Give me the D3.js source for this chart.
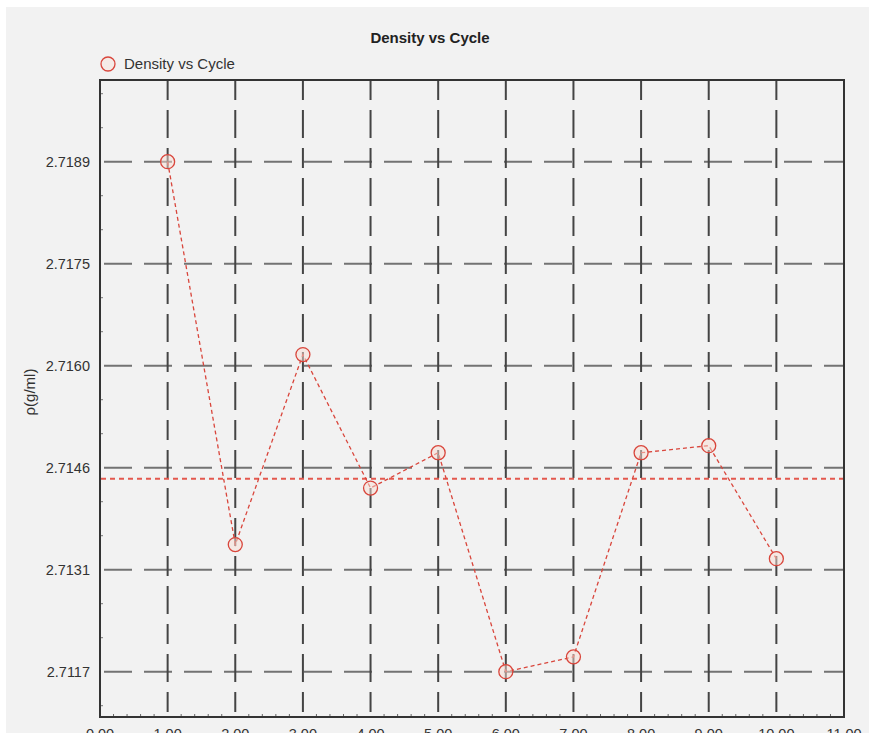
<!DOCTYPE html>
<html>
<head>
<meta charset="utf-8">
<script src="https://cdn.jsdelivr.net/npm/d3@7"></script>
<style>
html,body{margin:0;padding:0;background:#fff;}
svg{display:block;}
text{font-family:"Liberation Sans",Arial,Helvetica,sans-serif;}
</style>
</head>
<body>
<script>
const cycles = [1,2,3,4,5,6,7,8,9,10];
const density = [2.71892,2.71350,2.71619,2.71430,2.71480,2.71170,2.71191,2.71480,2.71490,2.71330];
const xTicks = [0,1,2,3,4,5,6,7,8,9,10,11];
const yTickLabels = ["2.7189","2.7175","2.7160","2.7146","2.7131","2.7117"];
const title = "Density vs Cycle";
const seriesName = "Density vs Cycle";
const yLabel = "ρ(g/ml)";

(function(){
const W = 869, H = 733;
const svg = d3.select("body").append("svg").attr("width", W).attr("height", H);
svg.append("rect").attr("x",6).attr("y",7).attr("width",W-6).attr("height",H-7).attr("fill","#f2f2f2");

const pL = 100, pR = 844, pT = 80, pB = 717;
const x = d3.scaleLinear().domain([0,11]).range([pL,pR]);
const yMax = d3.max(density), yMin = d3.min(density);
const pxPerUnit = (671.7-161.7)/(yMax-yMin);
const y = d3.scaleLinear()
  .domain([yMin - (pB-671.7)/pxPerUnit, yMax + (161.7-pT)/pxPerUnit])
  .range([pB, pT]);
const yTickVals = d3.range(6).map(i => yMax - i*(yMax-yMin)/5);

// grid
const g = svg.append("g");
g.selectAll(".hg").data(yTickVals).join("line")
  .attr("x1",pL).attr("x2",pR).attr("y1",d=>y(d)).attr("y2",d=>y(d))
  .attr("stroke","#737373").attr("stroke-width",2).attr("stroke-dasharray","28,12").attr("stroke-dashoffset",-4);
g.selectAll(".vg").data(xTicks.slice(1,-1)).join("line")
  .attr("x1",d=>x(d)).attr("x2",d=>x(d)).attr("y1",pT).attr("y2",pB)
  .attr("stroke","#444").attr("stroke-width",2).attr("stroke-dasharray","20,10,28,10");

// minor ticks
const minorX = d3.range(0,11.01,0.2).filter(v=>Math.abs(v-Math.round(v))>1e-6);
g.selectAll(".mx").data(minorX).join("line")
  .attr("x1",d=>x(d)).attr("x2",d=>x(d)).attr("y1",pB).attr("y2",pB-3)
  .attr("stroke","#666").attr("stroke-width",1);
const step = (yMax-yMin)/5;
const minorY = [];
for (let i=-1;i<6;i++){ for(let k=1;k<3;k++){ const v = yMax - i*step - k*step/3; if(v>y.domain()[0] && v<y.domain()[1]) minorY.push(v);} }
g.selectAll(".my").data(minorY).join("line")
  .attr("x1",pL).attr("x2",pL+3).attr("y1",d=>y(d)).attr("y2",d=>y(d))
  .attr("stroke","#777").attr("stroke-width",1);

// frame
svg.append("rect").attr("x",pL).attr("y",pT).attr("width",pR-pL).attr("height",pB-pT)
  .attr("fill","none").attr("stroke","#333").attr("stroke-width",2);

// y tick labels
svg.selectAll(".yl").data(yTickVals).join("text")
  .attr("x",90).attr("y",d=>y(d)+5).attr("text-anchor","end")
  .attr("font-size",14.5).attr("fill","#333").text((d,i)=>yTickLabels[i]);

// x tick labels
svg.selectAll(".xl").data(xTicks).join("text")
  .attr("x",d=>x(d)).attr("y",739).attr("text-anchor","middle")
  .attr("font-size",14.5).attr("fill","#333").text(d=>d.toFixed(2));

// y label
svg.append("text").attr("transform","translate(35,392) rotate(-90)")
  .attr("text-anchor","middle").attr("font-size",15).attr("fill","#333").text(yLabel);

// title
svg.append("text").attr("x",430).attr("y",43).attr("text-anchor","middle")
  .attr("font-size",15).attr("font-weight","bold").attr("fill","#222").text(title);

// legend
svg.append("circle").attr("cx",108).attr("cy",64).attr("r",7)
  .attr("fill","#f7e4dc").attr("fill-opacity",0.5).attr("stroke","#d9463c").attr("stroke-width",1.3);
svg.append("text").attr("x",124).attr("y",69).attr("font-size",15).attr("fill","#333").text(seriesName);

// mean line
const mean = d3.mean(density);
svg.append("line").attr("x1",pL+1).attr("x2",pR-1).attr("y1",y(mean)).attr("y2",y(mean))
  .attr("stroke","#e4584e").attr("stroke-width",2).attr("stroke-dasharray","5,4");

// series line
const pts = cycles.map((c,i)=>[c,density[i]]);
svg.append("path").datum(pts)
  .attr("d", d3.line().x(d=>x(d[0])).y(d=>y(d[1])))
  .attr("fill","none").attr("stroke","#d9463c").attr("stroke-width",1.3).attr("stroke-dasharray","4,3");

// markers
svg.selectAll(".pt").data(pts).join("circle")
  .attr("cx",d=>x(d[0])).attr("cy",d=>y(d[1])).attr("r",7)
  .attr("fill","#f7ddd3").attr("fill-opacity",0.5).attr("stroke","#d9463c").attr("stroke-width",1.3);
})();
</script>
</body>
</html>
